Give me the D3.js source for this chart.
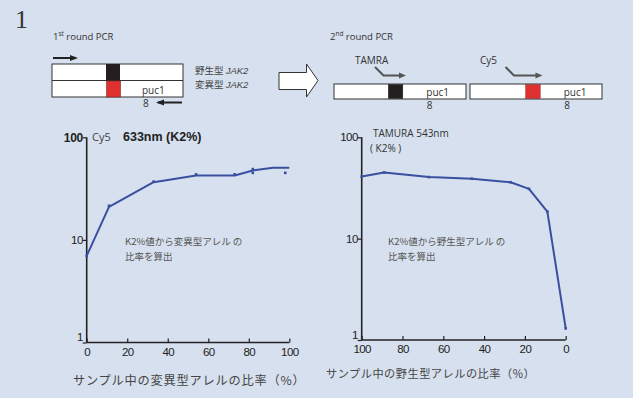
<!DOCTYPE html>
<html>
<head>
<meta charset="utf-8">
<script src="https://cdn.jsdelivr.net/npm/d3@7"></script>
<style>
  html, body { margin: 0; padding: 0; background: #d6e0ee; }
  svg { display: block; }
</style>
</head>
<body>
<svg id="chart" width="633" height="398"></svg>
<script>
// Cy5 633nm signal (K2%) vs. proportion of mutant allele in sample
const mutantPct   = [0, 11, 33, 54, 73, 82, 92, 100];
const cy5Line     = [7, 21, 36.5, 42.5, 42.5, 47.5, 50.5, 50.5];
const cy5MarkPct  = [0, 11, 33, 54, 73, 82, 82, 98];
const cy5MarkVal  = [7, 21.5, 37, 43.5, 43.5, 49, 45, 45];

// TAMRA 543nm signal (K2%) vs. proportion of wild-type allele in sample
const wildPct     = [100, 89, 67, 46, 27, 18, 9, 0];
const tamraLine   = [41, 45, 40.5, 39, 36, 31, 18.5, 1.3];

const xTicks = [0, 20, 40, 60, 80, 100];
const yTicks = [1, 10, 100];

const svg = d3.select("#chart");
const ink = "#222";
const lineBlue = "#3a4f9f";

svg.append("rect").attr("width", 633).attr("height", 398).attr("fill", "#d6e0ee");

// Panel number
svg.append("text").attr("x", 15).attr("y", 28)
  .attr("font-family", "Liberation Serif, serif").attr("font-size", 26).attr("fill", "#333").text("1");

// ---------- 1st round PCR schematic ----------
const t1 = svg.append("text").attr("x", 53).attr("y", 40)
  .attr("font-family", "Open Sans, sans-serif").attr("font-size", 9.5).attr("fill", "#333");
t1.append("tspan").text("1");
t1.append("tspan").attr("font-size", 6.5).attr("dy", -4).text("st");
t1.append("tspan").attr("dy", 4).text(" round PCR");

function arrowLine(g, x1, y1, x2, y2, color, w) {
  g.append("line").attr("x1", x1).attr("y1", y1).attr("x2", x2).attr("y2", y2)
    .attr("stroke", color).attr("stroke-width", w);
  const dir = Math.sign(x2 - x1);
  g.append("path")
    .attr("d", `M${x2 + dir * 2},${y2} L${x2 - dir * 6},${y2 - 3} L${x2 - dir * 6},${y2 + 3} Z`)
    .attr("fill", color);
}

const d1 = svg.append("g");
d1.append("rect").attr("x", 52).attr("y", 64).attr("width", 131).attr("height", 33)
  .attr("fill", "#fff").attr("stroke", "#333").attr("stroke-width", 1);
d1.append("line").attr("x1", 52).attr("x2", 183).attr("y1", 80.5).attr("y2", 80.5)
  .attr("stroke", "#333").attr("stroke-width", 1);
d1.append("rect").attr("x", 106).attr("y", 64).attr("width", 14).attr("height", 16.5).attr("fill", "#231f20");
d1.append("rect").attr("x", 106.5).attr("y", 81).attr("width", 14).attr("height", 16)
  .attr("fill", "#e03131").attr("stroke", "#7a2a2a").attr("stroke-width", 0.6);
d1.append("text").attr("x", 142).attr("y", 94).attr("font-family", "Open Sans, sans-serif")
  .attr("font-size", 10).attr("fill", "#333").text("puc1");
d1.append("text").attr("x", 143).attr("y", 107).attr("font-family", "Open Sans, sans-serif")
  .attr("font-size", 10).attr("fill", "#333").text("8");
arrowLine(d1, 53, 58, 76, 58, "#222", 2);
arrowLine(d1, 182, 102.5, 158, 102.5, "#222", 2);

const lab = svg.append("g").attr("font-family", "Noto Sans CJK JP, sans-serif").attr("font-size", 9.5).attr("fill", "#444");
const l1 = lab.append("text").attr("x", 195).attr("y", 74);
l1.append("tspan").text("野生型 ");
l1.append("tspan").attr("font-style", "italic").attr("font-family", "Liberation Sans, sans-serif").text("JAK2");
const l2 = lab.append("text").attr("x", 195).attr("y", 87.5);
l2.append("tspan").text("変異型 ");
l2.append("tspan").attr("font-style", "italic").attr("font-family", "Liberation Sans, sans-serif").text("JAK2");

// Block arrow between the two steps
svg.append("path")
  .attr("d", "M279,72.5 L306.5,72.5 L306.5,64 L318,80.5 L306.5,97 L306.5,89.5 L279,89.5 Z")
  .attr("fill", "#fff").attr("stroke", "#333").attr("stroke-width", 1);

// ---------- 2nd round PCR schematic ----------
const t2 = svg.append("text").attr("x", 330).attr("y", 40)
  .attr("font-family", "Open Sans, sans-serif").attr("font-size", 9.5).attr("fill", "#333");
t2.append("tspan").text("2");
t2.append("tspan").attr("font-size", 6.5).attr("dy", -4).text("nd");
t2.append("tspan").attr("dy", 4).text(" round PCR");

const d2 = svg.append("g");
function product(x0, x1, blockX, blockColor, blockStroke) {
  d2.append("rect").attr("x", x0).attr("y", 84).attr("width", x1 - x0).attr("height", 15)
    .attr("fill", "#fff").attr("stroke", "#333").attr("stroke-width", 1);
  d2.append("rect").attr("x", blockX).attr("y", 84.5).attr("width", 14.5).attr("height", 14)
    .attr("fill", blockColor).attr("stroke", blockStroke).attr("stroke-width", 0.5);
  d2.append("text").attr("x", blockX + 38).attr("y", 95.5).attr("font-family", "Open Sans, sans-serif")
    .attr("font-size", 10).attr("fill", "#333").text("puc1");
  d2.append("text").attr("x", blockX + 38.5).attr("y", 108.5).attr("font-family", "Open Sans, sans-serif")
    .attr("font-size", 10).attr("fill", "#333").text("8");
}
product(334, 466, 388.3, "#231f20", "#231f20");
product(470, 602, 525.7, "#e03131", "#7a2a2a");

function bentArrow(xs, ys, xb, yb, xe) {
  d2.append("path").attr("d", `M${xs},${ys} L${xb},${yb} L${xe},${yb}`)
    .attr("fill", "none").attr("stroke", "#555").attr("stroke-width", 2);
  d2.append("path").attr("d", `M${xe + 4},${yb} L${xe - 3},${yb - 3} L${xe - 3},${yb + 3} Z`).attr("fill", "#555");
}
bentArrow(375, 67, 383.5, 75.5, 402);
bentArrow(505.5, 67, 514, 75.5, 538.5);
d2.append("text").attr("x", 355).attr("y", 64).attr("font-family", "Open Sans, sans-serif")
  .attr("font-size", 10).attr("fill", "#333").text("TAMRA");
d2.append("text").attr("x", 480).attr("y", 64).attr("font-family", "Open Sans, sans-serif")
  .attr("font-size", 10).attr("fill", "#333").text("Cy5");

// ---------- Charts ----------
function drawChart(opts) {
  const x = d3.scaleLinear().domain(opts.xDomain).range([opts.x0, opts.x1]);
  const y = d3.scaleLog().domain([1, 100]).range([opts.yBottom, 137.3]);
  const g = svg.append("g");

  const yAxis = g.append("g").attr("transform", `translate(${opts.x0},0)`)
    .call(d3.axisLeft(y).tickValues(yTicks).tickSize(4).tickFormat(d3.format("d")));
  const xAxis = g.append("g").attr("transform", `translate(0,${opts.yBottom})`)
    .call(d3.axisBottom(x).tickValues(xTicks).tickSize(-4).tickPadding(8).tickFormat(d3.format("d")));
  [yAxis, xAxis].forEach(a => {
    a.attr("font-family", "Liberation Sans Narrow, Liberation Sans, sans-serif").attr("font-size", 11.5);
    a.select(".domain").attr("stroke", ink).attr("stroke-width", 1.6);
    a.selectAll(".tick line").attr("stroke", ink).attr("stroke-width", 1.2);
    a.selectAll(".tick text").attr("fill", ink).attr("letter-spacing", "-0.6px");
  });
  xAxis.select(".domain").attr("d", `M${opts.x0},0H${opts.x1}`);
  yAxis.select(".domain").attr("d", `M0,${opts.yBottom}V137.3`);
  yAxis.selectAll(".tick text").attr("x", -4);
  yAxis.selectAll(".tick").filter(d => d === 1).select("text").attr("dy", "-0.15em");
  if (opts.boldTop) {
    yAxis.selectAll(".tick").filter(d => d === 100).select("text")
      .attr("font-weight", "bold").attr("font-family", "Liberation Sans, sans-serif").attr("font-size", 12)
      .attr("letter-spacing", "-0.4px");
  }
  xAxis.selectAll(".tick text").attr("dy", "0.45em");

  const line = d3.line().x(d => x(d[0])).y(d => y(d[1]));
  const pts = d3.zip(opts.lx, opts.ly);
  g.append("path").datum(pts).attr("d", line)
    .attr("fill", "none").attr("stroke", lineBlue).attr("stroke-width", 2).attr("stroke-linejoin", "round");
  g.selectAll("rect.mk").data(d3.zip(opts.mx, opts.my)).join("rect").attr("class", "mk")
    .attr("x", d => x(d[0]) - 1.3).attr("y", d => y(d[1]) - 1.3)
    .attr("width", 2.6).attr("height", 2.6).attr("fill", lineBlue);

  g.append("text").attr("x", opts.titleX).attr("y", opts.titleY)
    .attr("font-family", "Noto Sans CJK JP, sans-serif").attr("font-size", opts.titleSize)
    .attr("letter-spacing", opts.titleSpacing).attr("fill", "#444").text(opts.title);

  const note = g.append("g").attr("font-family", "Noto Sans CJK JP, sans-serif").attr("font-size", 9.5).attr("fill", "#555");
  note.append("text").attr("x", opts.noteX).attr("y", 245).text(opts.note1);
  note.append("text").attr("x", opts.noteX).attr("y", 260).text("比率を算出");
  return g;
}

const left = drawChart({
  xDomain: [0, 100], x0: 86.7, x1: 289.3, yBottom: 342.5, boldTop: true,
  lx: mutantPct, ly: cy5Line, mx: cy5MarkPct, my: cy5MarkVal,
  title: "サンプル中の変異型アレルの比率（%）", titleX: 73, titleY: 385, titleSize: 12.2, titleSpacing: "0.8px",
  note1: "K2%値から変異型アレル の", noteX: 125
});
left.append("text").attr("x", 92).attr("y", 141).attr("font-family", "Open Sans, sans-serif")
  .attr("font-size", 11).attr("fill", "#444").text("Cy5");
left.append("text").attr("x", 123).attr("y", 141).attr("font-family", "Liberation Sans, sans-serif")
  .attr("font-size", 12.5).attr("font-weight", "bold").attr("fill", "#222").text("633nm (K2%)");

const right = drawChart({
  xDomain: [100, 0], x0: 361.7, x1: 565.7, yBottom: 340, boldTop: false,
  lx: wildPct, ly: tamraLine, mx: wildPct, my: tamraLine,
  title: "サンプル中の野生型アレルの比率（%）", titleX: 326, titleY: 378, titleSize: 11.2, titleSpacing: "0.5px",
  note1: "K2%値から野生型アレル の", noteX: 388
});
right.append("text").attr("x", 373).attr("y", 137).attr("font-family", "Open Sans, sans-serif")
  .attr("font-size", 10).attr("fill", "#333").text("TAMURA 543nm");
right.append("text").attr("x", 370).attr("y", 152).attr("font-family", "Open Sans, sans-serif")
  .attr("font-size", 10).attr("fill", "#333").text("( K2% )");
</script>
</body>
</html>
